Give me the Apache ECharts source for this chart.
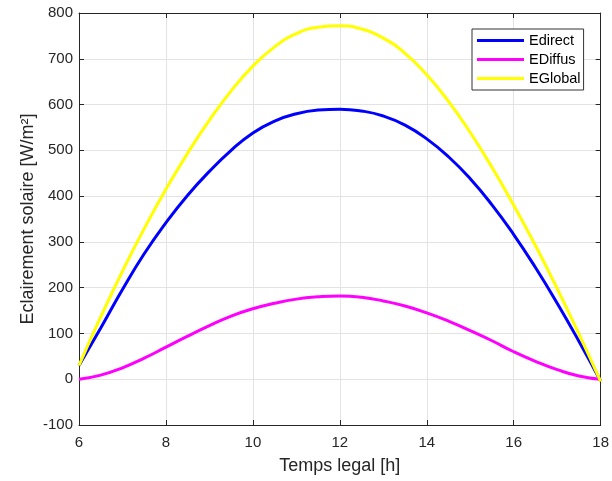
<!DOCTYPE html>
<html>
<head>
<meta charset="utf-8">
<script src="https://cdn.jsdelivr.net/npm/echarts@6/dist/echarts.min.js"></script>
<style>
  html, body { margin: 0; padding: 0; background: #fff; }
  #chart { width: 612px; height: 481px; }
</style>
</head>
<body>
<div id="chart"></div>
<script>
// heures (temps legal)
const hours = [6, 6.5, 7, 7.5, 8, 8.5, 9, 9.5, 10, 10.5, 11, 11.5, 12, 12.5, 13, 13.5, 14, 14.5, 15, 15.5, 16, 16.5, 17, 17.5, 18];
// eclairement direct
const eDirect = [30, 112, 196, 274, 342, 402, 454, 500, 538, 564, 580, 588, 590, 586, 575, 555, 525, 486, 438, 381, 316, 244, 166, 83, -4];
// eclairement diffus
const eDiffus = [0, 9, 25, 46, 70, 94, 117, 138, 154, 166, 175, 180, 182, 179, 171, 160, 145, 127, 106, 84, 60, 39, 21, 7, 0];
// eclairement global
const eGlobal = [30, 136, 236, 329, 415, 494, 566, 630, 684, 726, 755, 769, 772, 765, 745, 712, 665, 607, 539, 463, 380, 292, 198, 99, -5];

const font = "Arial, 'Liberation Sans', sans-serif";
const axisColor = "#262626";

function pairs(ys) {
  return hours.map((h, i) => [h, ys[i]]);
}

const chart = echarts.init(document.getElementById("chart"));

function lineSeries(name, data, color) {
  return {
    name: name,
    type: "line",
    data: pairs(data),
    smooth: true,
    showSymbol: false,
    symbol: "none",
    lineStyle: { color: color, width: 3 },
    itemStyle: { color: color },
    emphasis: { disabled: true },
  };
}

chart.setOption({
  animation: false,
  backgroundColor: "#fff",
  textStyle: { fontFamily: font },
  grid: { left: 79, right: 11, top: 13, bottom: 56 },
  legend: {
    orient: "vertical",
    left: 472,
    top: 29,
    icon: "rect",
    itemWidth: 47,
    itemHeight: 3,
    itemGap: 4,
    padding: [4, 3, 4, 5],
    backgroundColor: "#fff",
    borderColor: "#333",
    borderWidth: 1,
    textStyle: { fontFamily: font, fontSize: 14.5, color: "#000", lineHeight: 15 },
    data: ["Edirect", "EDiffus", "EGlobal"],
  },
  xAxis: [
    {
      type: "value",
      min: 6,
      max: 18,
      interval: 2,
      name: "Temps legal [h]",
      nameLocation: "middle",
      nameGap: 32,
      nameTextStyle: { fontFamily: font, fontSize: 18, color: axisColor },
      axisLine: { show: true, onZero: false, lineStyle: { color: axisColor, width: 1 } },
      axisTick: { show: true, inside: true, length: 5, lineStyle: { color: axisColor } },
      axisLabel: { fontFamily: font, fontSize: 15, color: axisColor, margin: 10 },
      splitLine: { show: true, lineStyle: { color: "#e3e3e3", width: 1 } },
    },
    {
      type: "value",
      position: "top",
      min: 6,
      max: 18,
      interval: 2,
      axisLine: { show: true, onZero: false, lineStyle: { color: axisColor, width: 1 } },
      axisTick: { show: true, inside: true, length: 5, lineStyle: { color: axisColor } },
      axisLabel: { show: false },
      splitLine: { show: false },
    },
  ],
  yAxis: [
    {
      type: "value",
      min: -100,
      max: 800,
      interval: 100,
      name: "Eclairement solaire [W/m\u00b2]",
      nameLocation: "middle",
      nameGap: 42,
      nameMoveOverlap: false,
      nameTextStyle: { fontFamily: font, fontSize: 18, color: axisColor },
      axisLine: { show: true, onZero: false, lineStyle: { color: axisColor, width: 1 } },
      axisTick: { show: true, inside: true, length: 5, lineStyle: { color: axisColor } },
      axisLabel: { fontFamily: font, fontSize: 15, color: axisColor, margin: 6 },
      splitLine: { show: true, lineStyle: { color: "#e3e3e3", width: 1 } },
    },
    {
      type: "value",
      position: "right",
      min: -100,
      max: 800,
      interval: 100,
      axisLine: { show: true, onZero: false, lineStyle: { color: axisColor, width: 1 } },
      axisTick: { show: true, inside: true, length: 5, lineStyle: { color: axisColor } },
      axisLabel: { show: false },
      splitLine: { show: false },
    },
  ],
  series: [
    lineSeries("Edirect", eDirect, "#0000ff"),
    lineSeries("EDiffus", eDiffus, "#ff00ff"),
    lineSeries("EGlobal", eGlobal, "#ffff00"),
  ],
});
</script>
</body>
</html>
